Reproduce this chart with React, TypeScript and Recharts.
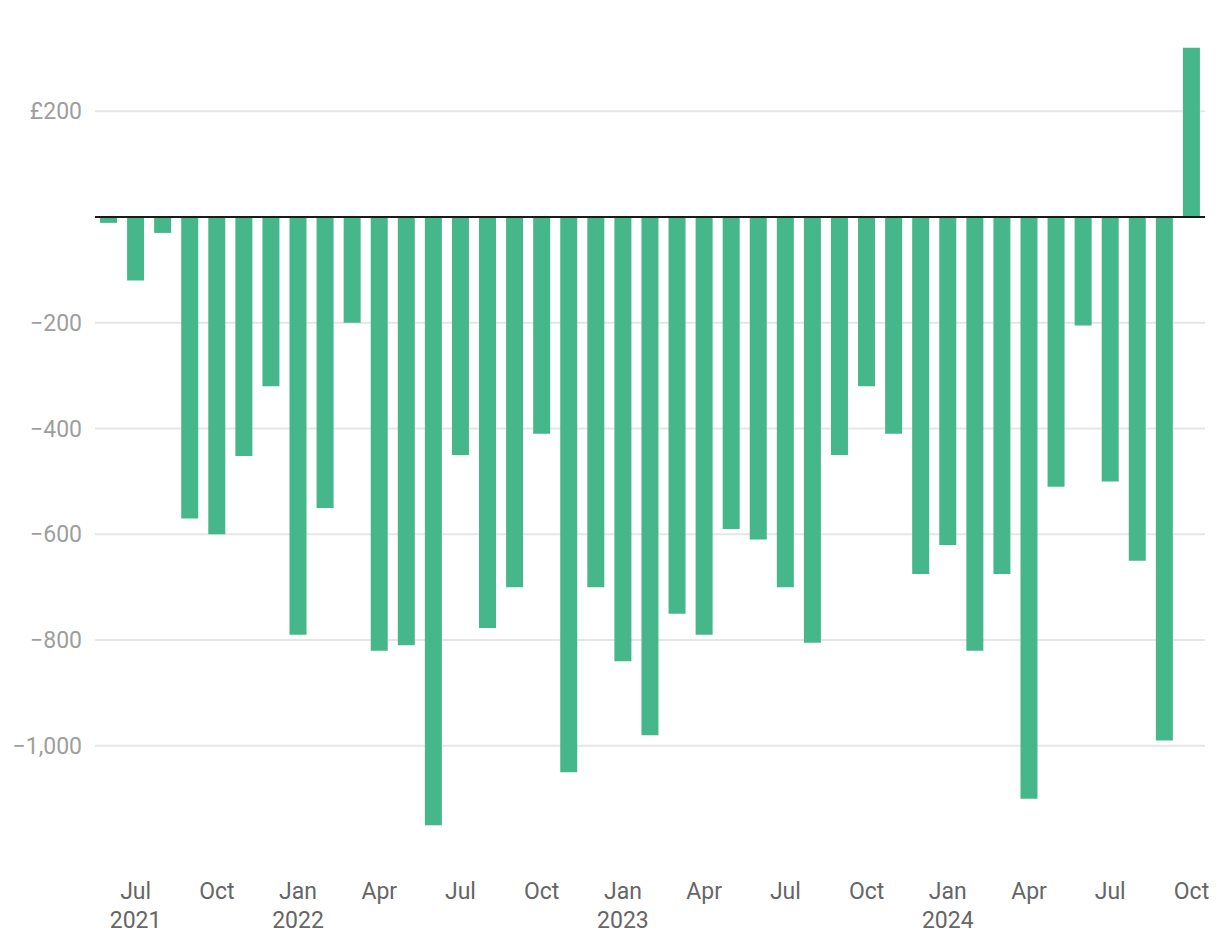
import React from "react";
import { Bar, BarChart, CartesianGrid, ReferenceLine, XAxis, YAxis } from "recharts";

// Monthly balance, Jun 2021 – Oct 2024
const months = [
  "Jun", "Jul", "Aug", "Sep", "Oct", "Nov", "Dec",
  "Jan", "Feb", "Mar", "Apr", "May", "Jun", "Jul", "Aug", "Sep", "Oct", "Nov", "Dec",
  "Jan", "Feb", "Mar", "Apr", "May", "Jun", "Jul", "Aug", "Sep", "Oct", "Nov", "Dec",
  "Jan", "Feb", "Mar", "Apr", "May", "Jun", "Jul", "Aug", "Sep", "Oct",
];

const years = [
  2021, 2021, 2021, 2021, 2021, 2021, 2021,
  2022, 2022, 2022, 2022, 2022, 2022, 2022, 2022, 2022, 2022, 2022, 2022,
  2023, 2023, 2023, 2023, 2023, 2023, 2023, 2023, 2023, 2023, 2023, 2023,
  2024, 2024, 2024, 2024, 2024, 2024, 2024, 2024, 2024, 2024,
];

const balance = [
  -11, -120, -30, -570, -600, -452, -320,
  -790, -550, -200, -820, -810, -1150, -450, -777, -700, -410, -1050, -700,
  -840, -980, -750, -790, -590, -610, -700, -805, -450, -320, -410, -675,
  -620, -820, -675, -1100, -510, -205, -500, -650, -990, 320,
];

const yTicks = [200, 0, -200, -400, -600, -800, -1000];

const data = months.map((m, i) => ({
  key: `${m} ${years[i]}`,
  month: m,
  year: years[i],
  value: balance[i],
}));

const fmtY = (v: number) => {
  if (v === 0) return "";
  const s = Math.abs(v).toLocaleString("en-GB");
  return v > 0 ? `£${s}` : `\u2212${s}`;
};

const MonthTick = (props: any) => {
  const { x, y, index } = props;
  const d = data[index];
  if (!d || !["Jan", "Apr", "Jul", "Oct"].includes(d.month)) return null;
  const showYear = d.month === "Jan" || index === 1;
  return (
    <g>
      <text x={x} y={y} dy={20.5} textAnchor="middle" fill="#666" fontSize={23}>
        {d.month}
      </text>
      {showYear && (
        <text x={x} y={y} dy={50} textAnchor="middle" fill="#666" fontSize={23}>
          {d.year}
        </text>
      )}
    </g>
  );
};

export default function App() {
  return (
    <div style={{ fontFamily: "Roboto, sans-serif" }}>
      <style>{"body{margin:0}"}</style>
      <BarChart
        width={1220}
        height={950}
        data={data}
        margin={{ top: 32, right: 15, bottom: 12, left: 0 }}
        barSize={17}
      >
        <CartesianGrid
          vertical={false}
          stroke="#e6e6e6"
          strokeWidth={2}
          horizontalValues={yTicks}
        />
        <XAxis
          dataKey="key"
          axisLine={false}
          tickLine={false}
          tickSize={0}
          tickMargin={0}
          interval={0}
          height={60}
          tick={<MonthTick />}
        />
        <YAxis
          type="number"
          domain={[-1250, 350]}
          ticks={yTicks}
          width={95}
          axisLine={false}
          tickLine={false}
          tickSize={0}
          tickMargin={13}
          tickFormatter={fmtY}
          tick={{ fill: "#9e9e9e", fontSize: 23 }}
          allowDataOverflow
        />
        <Bar dataKey="value" fill="#46b78a" isAnimationActive={false} />
        <ReferenceLine y={0} stroke="#1a1a1a" strokeWidth={2} />
      </BarChart>
    </div>
  );
}
